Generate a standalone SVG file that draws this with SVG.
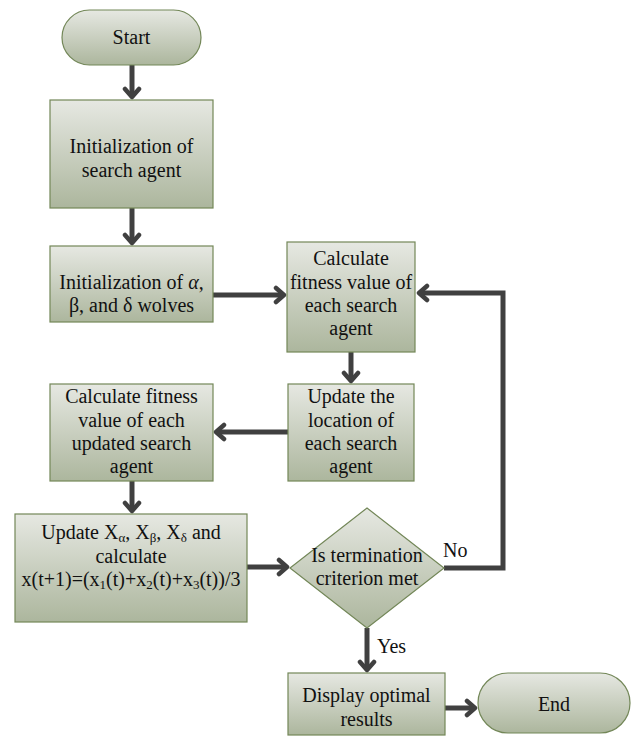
<svg xmlns="http://www.w3.org/2000/svg" width="635" height="738" viewBox="0 0 635 738" font-family="'Liberation Serif', 'Times New Roman', serif">
<defs>
<linearGradient id="g" x1="0" y1="0" x2="0" y2="1">
<stop offset="0" stop-color="#e6e8e2"/>
<stop offset="1" stop-color="#acb69d"/>
</linearGradient>
<marker id="arr" markerUnits="userSpaceOnUse" markerWidth="20" markerHeight="20" refX="11" refY="10" orient="auto">
<path d="M3,3 L11,10 L3,17" fill="none" stroke="#404040" stroke-width="4.5" stroke-linecap="round" stroke-linejoin="round"/>
</marker>
</defs>
<style>
.n{fill:url(#g);stroke:#738758;stroke-width:1.2}
text{font-family:'Liberation Serif','Times New Roman',serif;font-size:20px;fill:#111}
.t{text-anchor:middle}
.c{fill:none;stroke:#404040;stroke-width:5}
.s{font-size:13px}
</style>
<g id="connectors">
<path class="c" d="M132,65 V97" marker-end="url(#arr)"/>
<path class="c" d="M132,208 V243" marker-end="url(#arr)"/>
<path class="c" d="M213,295 H284" marker-end="url(#arr)"/>
<path class="c" d="M351,352 V381" marker-end="url(#arr)"/>
<path class="c" d="M288,432 H216" marker-end="url(#arr)"/>
<path class="c" d="M132,481 V511" marker-end="url(#arr)"/>
<path class="c" d="M247,567 H287" marker-end="url(#arr)"/>
<path class="c" d="M444,568 H503 V293 H419" marker-end="url(#arr)"/>
<path class="c" d="M367,628 V670" marker-end="url(#arr)"/>
<path class="c" d="M445,708 H475" marker-end="url(#arr)"/>
<text x="443" y="557">No</text>
<text x="377" y="653">Yes</text>
</g>
<g id="start">
<rect class="n" x="62" y="10" width="139" height="55" rx="27.5"/>
<text class="t" x="131.5" y="44">Start</text>
</g>
<g id="init-agent">
<rect class="n" x="50" y="100" width="163" height="108"/>
<text class="t" x="131.5" y="153">Initialization of</text>
<text class="t" x="131.5" y="177">search agent</text>
</g>
<g id="init-wolves">
<rect class="n" x="50" y="246" width="163" height="76"/>
<text class="t" x="131.5" y="289">Initialization of <tspan font-style="italic">α</tspan>,</text>
<text class="t" x="131.5" y="312">β, and δ wolves</text>
</g>
<g id="calc-fitness">
<rect class="n" x="287" y="242" width="128" height="110"/>
<text class="t" x="351" y="265">Calculate</text>
<text class="t" x="351" y="289">fitness value of</text>
<text class="t" x="351" y="312">each search</text>
<text class="t" x="351" y="335">agent</text>
</g>
<g id="update-location">
<rect class="n" x="288" y="384" width="126" height="97"/>
<text class="t" x="351" y="403">Update the</text>
<text class="t" x="351" y="427">location of</text>
<text class="t" x="351" y="450">each search</text>
<text class="t" x="351" y="473">agent</text>
</g>
<g id="calc-updated">
<rect class="n" x="50" y="384" width="163" height="97"/>
<text class="t" x="131.5" y="403">Calculate fitness</text>
<text class="t" x="131.5" y="427">value of each</text>
<text class="t" x="131.5" y="450">updated search</text>
<text class="t" x="131.5" y="473">agent</text>
</g>
<g id="update-x">
<rect class="n" x="15" y="514" width="232" height="108"/>
<text class="t" x="131" y="539">Update X<tspan class="s" dy="3">α</tspan><tspan dy="-3">, X</tspan><tspan class="s" dy="3">β</tspan><tspan dy="-3">, X</tspan><tspan class="s" dy="3">δ</tspan><tspan dy="-3"> and</tspan></text>
<text class="t" x="131" y="563">calculate</text>
<text class="t" x="131" y="586">x(t+1)=(x<tspan class="s" dy="3">1</tspan><tspan dy="-3">(t)+x</tspan><tspan class="s" dy="3">2</tspan><tspan dy="-3">(t)+x</tspan><tspan class="s" dy="3">3</tspan><tspan dy="-3">(t))/3</tspan></text>
</g>
<g id="decision">
<polygon class="n" points="367,508 444,568 367,628 290,568"/>
<text class="t" x="367" y="562">Is termination</text>
<text class="t" x="367" y="585">criterion met</text>
</g>
<g id="display">
<rect class="n" x="288" y="673" width="157" height="62"/>
<text class="t" x="366.5" y="702">Display optimal</text>
<text class="t" x="366.5" y="726">results</text>
</g>
<g id="end">
<rect class="n" x="478" y="673" width="152" height="60" rx="30"/>
<text class="t" x="554" y="711">End</text>
</g>
</svg>
